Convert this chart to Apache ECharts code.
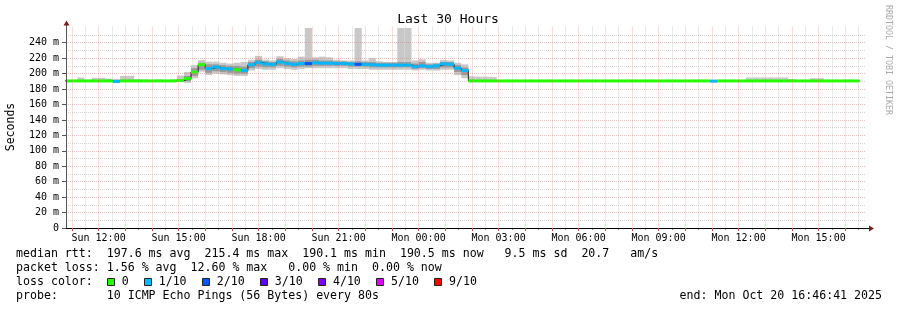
<!DOCTYPE html>
<html><head><meta charset="utf-8">
<script src="https://cdn.jsdelivr.net/npm/echarts@6/dist/echarts.min.js"></script>
<style>html,body{margin:0;padding:0;background:#fff}#c{width:897px;height:310px}</style>
</head><body><div id="c"></div>
<script>
// ---------- data ----------
const chartTitle = 'Last 30 Hours';
const yAxisName = 'Seconds';
const sideNote = 'RRDTOOL / TOBI OETIKER';
// hours counted from Sun 00:00
const xStartHour = 10 + 46 / 60 + 41 / 3600;   // Sun 10:46:41
const xEndHour = xStartHour + 30;              // Mon 16:46:41
const xTickHours = [12, 15, 18, 21, 24, 27, 30, 33, 36, 39];
const xTickLabels = ['Sun 12:00', 'Sun 15:00', 'Sun 18:00', 'Sun 21:00', 'Mon 00:00',
                     'Mon 03:00', 'Mon 06:00', 'Mon 09:00', 'Mon 12:00', 'Mon 15:00'];
const xHourGrid = [11,12,13,14,15,16,17,18,19,20,21,22,23,24,25,26,27,28,29,30,31,32,33,34,35,36,37,38,39,40];
const xHalfHourGrid = [11.5,12.5,13.5,14.5,15.5,16.5,17.5,18.5,19.5,20.5,21.5,22.5,23.5,24.5,25.5,26.5,27.5,28.5,29.5,30.5,31.5,32.5,33.5,34.5,35.5,36.5,37.5,38.5,39.5,40.5];
const yMax = 261;
const yTickValues = [0, 20, 40, 60, 80, 100, 120, 140, 160, 180, 200, 220, 240];
const yTickLabels = ['0', '20 m', '40 m', '60 m', '80 m', '100 m', '120 m', '140 m', '160 m', '180 m', '200 m', '220 m', '240 m'];
const yMinorGrid = [10, 30, 50, 70, 90, 110, 130, 150, 170, 190, 210, 230, 250];

// consolidated rows: 16 minute steps starting Sun 10:40
const blockStartHour = 10 + 40 / 60;
const blockMinutes = 16;
const medianMs = [
 190.5,190.5,190.5,190.5,190.5,190.5,190.5,189.8,190.5,190.5,
 190.5,190.5,190.5,190.5,190.5,190.5,191,193.5,202,211.5,
 206.5,208.5,206.5,206,205,204,211.5,214.5,212.5,212,
 215,213,212,213,213,214,213.5,213.5,213,213,
 212.5,212,212,211.5,211,211,211,211,211,209,
 210,209,210,212.5,212,207,204,190.5,190.5,190.5,
 190.5,190.5,190.5,190.5,190.5,190.5,190.5,190.5,190.5,190.5,
 190.5,190.5,190.5,190.5,190.5,190.5,190.5,190.5,190.5,190.5,
 190.5,190.5,190.5,190.5,190.5,190.5,190.5,190.5,190.5,190.5,
 190.5,190.2,190.5,190.5,190.5,190.5,190.5,190.5,190.5,190.5,
 190.5,190.5,190.5,190.5,190.5,190.5,190.5,190.5,190.5,190.5,
 190.5,190.5];
const minMs = [
 190,190,190,190,190,190,190,189,190,190,
 190,190,190,190,190,190,189,188,194,202.5,
 198,200,199,198,197,197,204,206,205,205,
 207,206,205,206,207,207,207,207,207,207,
 206,206,206,205,205,205,205,205,205,204,
 205,204,204,205,205,198,194,190,190,190,
 190,190,190,190,190,190,190,190,190,190,
 190,190,190,190,190,190,190,190,190,190,
 190,190,190,190,190,190,190,190,190,190,
 190,189.5,190,190,190,190,190,190,190,190,
 190,190,190,190,190,190,190,190,190,190,
 190,190];
const maxMs = [
 191,191.5,195,192,194.5,194.5,193.5,193,197,197,
 193,192.5,191,192.5,191,192.5,197.5,202,211,217.5,
 215.5,215.5,214,213,214,215,218,223,218,217,
 222.5,220,219,222,259,221,222,221,218,217,
 217,259,217,220,216,215,215,259,259,217,
 218.5,214,214,217.5,217,214,212,196.5,196,196,
 195.5,191,191,191,191,191,191,191,191,191,
 191,191,191,191,191,191,191,191,191,191,
 191,191,191,191,191,191,191,191,191,191,
 191,192,191,191,191,191,195,195,195,195,
 195,195,193,191,191,194,194,191,191,191,
 192,191];
const innerLoMs = [
 190,190,190,190,190,190,190,189.3,190,190,
 190,190,190,190,190,190,190,190,197,205,
 201,203,202,201,200,200,207,209,208,208,
 210,209,208,209,209,210,210,210,210,210,
 209,209,209,208,208,208,208,208,208,206,
 207,206,206,208,208,202,198,190,190,190,
 190,190,190,190,190,190,190,190,190,190,
 190,190,190,190,190,190,190,190,190,190,
 190,190,190,190,190,190,190,190,190,190,
 190,189.5,190,190,190,190,190,190,190,190,
 190,190,190,190,190,190,190,190,190,190,
 190,190];
const innerHiMs = [
 191,191,191.5,191,191.5,191.5,191,190.8,192,192,
 191,191,191,191,191,191,193,197,207,214,
 212,212,211,210,210,209,215,218,216,215,
 219,217,216,217,218,218,217,217,216,216,
 215,216,215,215,214,214,214,215,215,213,
 215,212,213,215,215,211,208,192,191.5,191.5,
 191.5,191,191,191,191,191,191,191,191,191,
 191,191,191,191,191,191,191,191,191,191,
 191,191,191,191,191,191,191,191,191,191,
 191,191,191,191,191,191,191.5,191.5,191.5,191.5,
 191.5,191.5,191,191,191,191,191,191,191,191,
 191,191];
const lossTenths = [
 0,0,0,0,0,0,0,1,0,0,
 0,0,0,0,0,0,0,0,0,0,
 1,1,1,1,0,1,1,1,1,1,
 1,1,1,1,2,1,1,1,1,1,
 1,2,1,1,1,1,1,1,1,1,
 1,1,1,1,1,1,1,0,0,0,
 0,0,0,0,0,0,0,0,0,0,
 0,0,0,0,0,0,0,0,0,0,
 0,0,0,0,0,0,0,0,0,0,
 0,1,0,0,0,0,0,0,0,0,
 0,0,0,0,0,0,0,0,0,0,
 0,0];
const lossLegendLabels = ['0', '1/10', '2/10', '3/10', '4/10', '5/10', '9/10'];
const lossLegendColors = ['#26ff00', '#00b8ff', '#0059ff', '#5e00ff', '#7e00ff', '#dd00ff', '#ff0000'];
const statLines = [
  'median rtt:  197.6 ms avg  215.4 ms max  190.1 ms min  190.5 ms now   9.5 ms sd  20.7   am/s',
  'packet loss: 1.56 % avg  12.60 % max   0.00 % min  0.00 % now'
];
const lossColorTitle = 'loss color:';
const probeText = 'probe:       10 ICMP Echo Pings (56 Bytes) every 80s';
const endText = 'end: Mon Oct 20 16:46:41 2025';

// ---------- rendering ----------
const MONO = 'DejaVu Sans Mono';
const G = { left: 66, top: 26.5, width: 800, height: 201.5 };
const stepH = blockMinutes / 60;
const nBlocks = medianMs.length;
function lossColor(t) { return t <= 5 ? lossLegendColors[t] : lossLegendColors[6]; }

const blockData = medianMs.map((m, k) => [
  blockStartHour + k * stepH, blockStartHour + (k + 1) * stepH,
  minMs[k], maxMs[k], innerLoMs[k], innerHiMs[k], m, lossTenths[k]
]);
const medianLine = medianMs.map((m, k) => [blockStartHour + k * stepH, m]);
medianLine.push([blockStartHour + nBlocks * stepH, medianMs[nBlocks - 1]]);

function clipR(r, cs) {
  return echarts.graphic.clipRectByRect(r, { x: cs.x, y: cs.y, width: cs.width, height: cs.height });
}
function rectFor(api, t0, t1, lo, hi) {
  const a = api.coord([t0, hi]), b = api.coord([t1, lo]);
  return { x: a[0], y: a[1], width: b[0] - a[0], height: b[1] - a[1] };
}
function renderSmoke(params, api) {
  const cs = params.coordSys;
  const t0 = api.value(0), t1 = api.value(1);
  const outer = clipR(rectFor(api, t0, t1, api.value(2), api.value(3)), cs);
  const inner = clipR(rectFor(api, t0, t1, api.value(4), api.value(5)), cs);
  const ch = [];
  if (outer) ch.push({ type: 'rect', shape: outer, style: { fill: '#c8c8c8' } });
  if (inner) ch.push({ type: 'rect', shape: inner, style: { fill: '#9a9a9a' } });
  return { type: 'group', children: ch };
}
function renderBand(params, api) {
  const cs = params.coordSys;
  const t0 = api.value(0), t1 = api.value(1);
  const a = api.coord([t0, api.value(6)]), b = api.coord([t1, api.value(6)]);
  const r = clipR({ x: a[0], y: a[1] - 1.5, width: b[0] - a[0], height: 3 }, cs);
  if (!r) return null;
  return { type: 'rect', shape: r, style: { fill: lossColor(api.value(7)) } };
}

const chart = echarts.init(document.getElementById('c'), null, { renderer: 'canvas' });

const graphics = [];
graphics.push({ type: 'text', x: 448, y: 19.5, style: { text: chartTitle, font: '13px ' + MONO, fill: '#000', align: 'center', verticalAlign: 'middle' } });
graphics.push({ type: 'text', x: 11, y: 127, rotation: Math.PI / 2, style: { text: yAxisName, font: '11.5px ' + MONO, fill: '#000', align: 'center', verticalAlign: 'middle' } });
graphics.push({ type: 'text', x: 888, y: 5, rotation: -Math.PI / 2, style: { text: sideNote, font: '8.3px ' + MONO, fill: '#aaaaaa', align: 'left', verticalAlign: 'middle' } });
// axis arrows
const arrowCol = '#7d1f1f';
const x0 = G.left, yB = G.top + G.height, xR = G.left + G.width;
graphics.push({ type: 'line', shape: { x1: x0 + 0.5, y1: G.top, x2: x0 + 0.5, y2: 23 }, style: { stroke: '#555', lineWidth: 1 } });
graphics.push({ type: 'polygon', shape: { points: [[x0 - 2.5, 25.5], [x0 + 3.5, 25.5], [x0 + 0.5, 20.5]] }, style: { fill: arrowCol } });
graphics.push({ type: 'line', shape: { x1: xR, y1: yB + 0.5, x2: xR + 4, y2: yB + 0.5 }, style: { stroke: '#000', lineWidth: 1 } });
graphics.push({ type: 'polygon', shape: { points: [[xR + 3, yB - 2.5], [xR + 3, yB + 3.5], [xR + 8, yB + 0.5]] }, style: { fill: arrowCol } });
// stat lines
const lineY = [254.3, 268.3, 282.3, 296.3];
const textX = 16, charW = 7.02;
statLines.forEach((s, i) => graphics.push({ type: 'text', x: textX, y: lineY[i], style: { text: s, font: '11.6px ' + MONO, fill: '#000', verticalAlign: 'middle' } }));
graphics.push({ type: 'text', x: textX, y: lineY[2], style: { text: lossColorTitle, font: '11.6px ' + MONO, fill: '#000', verticalAlign: 'middle' } });
let bx = textX + 13 * charW - 0.6;
lossLegendLabels.forEach((lab, i) => {
  graphics.push({ type: 'rect', shape: { x: Math.round(bx) + 0.5, y: lineY[2] - 3.8, width: 7, height: 7 }, style: { fill: lossLegendColors[i], stroke: '#222', lineWidth: 1 } });
  const lx = bx + 15;
  graphics.push({ type: 'text', x: lx, y: lineY[2], style: { text: lab, font: '11.6px ' + MONO, fill: '#000', verticalAlign: 'middle' } });
  bx = lx + lab.length * charW + 15;
});
graphics.push({ type: 'text', x: textX, y: lineY[3], style: { text: probeText, font: '11.6px ' + MONO, fill: '#000', verticalAlign: 'middle' } });
graphics.push({ type: 'text', x: 882, y: lineY[3], style: { text: endText, font: '11.6px ' + MONO, fill: '#000', align: 'right', verticalAlign: 'middle' } });

const redGrid = { color: 'rgba(230,110,110,0.45)', width: 1, type: [1, 1] };
const grayGrid = { color: 'rgba(150,150,150,0.38)', width: 1, type: [1, 1] };

chart.setOption({
  animation: false,
  backgroundColor: '#ffffff',
  grid: { left: G.left, top: G.top, width: G.width, height: G.height, containLabel: false },
  xAxis: [
    { type: 'value', min: xStartHour, max: xEndHour, position: 'bottom', z: 5,
      axisLine: { show: true, onZero: false, lineStyle: { color: '#000', width: 1 } },
      axisTick: { show: true, customValues: xHourGrid, length: 3, lineStyle: { color: '#d05050' } },
      axisLabel: { customValues: xTickHours, formatter: v => xTickLabels[xTickHours.indexOf(Math.round(v))] || '',
        fontFamily: MONO, fontSize: 10, color: '#000', margin: 5 },
      splitLine: { show: true, lineStyle: redGrid } },
    { type: 'value', min: xStartHour, max: xEndHour, position: 'bottom',
      axisLine: { show: false },
      axisTick: { show: true, customValues: xHalfHourGrid, length: 2, lineStyle: { color: '#999' } },
      axisLabel: { show: false },
      splitLine: { show: true, lineStyle: grayGrid } }
  ],
  yAxis: [
    { type: 'value', min: 0, max: yMax, position: 'left', z: 5,
      axisLine: { show: true, onZero: false, lineStyle: { color: '#555', width: 1 } },
      axisTick: { show: true, customValues: yTickValues, length: 4, lineStyle: { color: '#555' } },
      axisLabel: { customValues: yTickValues, formatter: v => yTickLabels[yTickValues.indexOf(Math.round(v))] || '',
        fontFamily: MONO, fontSize: 10, color: '#000', margin: 7 },
      splitLine: { show: true, lineStyle: redGrid } },
    { type: 'value', min: 0, max: yMax, position: 'left',
      axisLine: { show: false },
      axisTick: { show: false, customValues: yMinorGrid },
      axisLabel: { show: false },
      splitLine: { show: true, lineStyle: grayGrid } }
  ],
  series: [
    { type: 'custom', name: 'smoke', renderItem: renderSmoke, data: blockData, xAxisIndex: 0, yAxisIndex: 0, z: 2, silent: true,
      encode: { x: [0, 1], y: [2, 3] } },
    { type: 'line', name: 'median', data: medianLine, step: 'end', xAxisIndex: 0, yAxisIndex: 0, z: 3, symbol: 'none',
      lineStyle: { color: '#202020', width: 1 }, silent: true, clip: true },
    { type: 'custom', name: 'loss', renderItem: renderBand, data: blockData, xAxisIndex: 0, yAxisIndex: 0, z: 4, silent: true,
      encode: { x: [0, 1], y: [6] } }
  ],
  graphic: graphics
});
</script>
</body></html>
